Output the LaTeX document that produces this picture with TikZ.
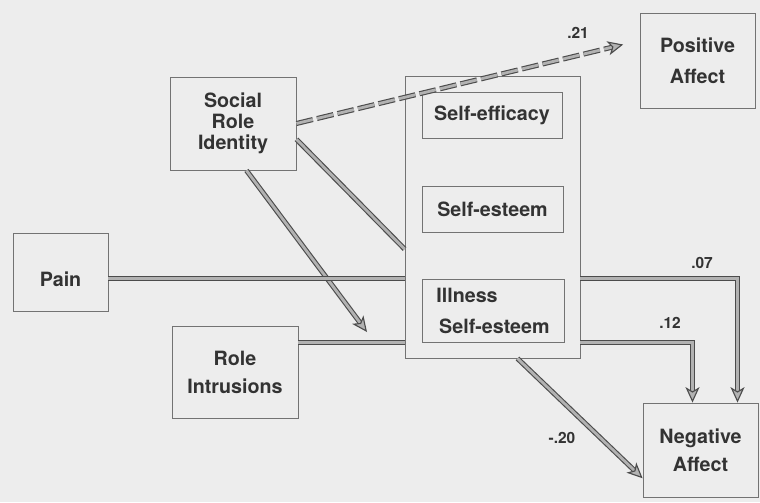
\documentclass[tikz,border=0pt]{standalone}
\usepackage{fontspec}
\setmainfont{TeX Gyre Heros}
\usepackage{tikz}
\usetikzlibrary{arrows.meta, positioning, calc}

\begin{document}
\begin{tikzpicture}[
    x=0.025cm, y=-0.025cm,
    box/.style={rectangle, draw=black!55, line width=0.6pt, align=center, inner sep=0pt, text=black!80, font=\fontsize{14}{20}\selectfont\bfseries},
    link/.style={draw=black!70, line width=0.8pt, double=black!30, double distance=2pt},
    arrow/.style={link, -{Stealth[length=11pt, width=10pt, inset=3pt, fill=black!30, line width=0.8pt]}},
    coef/.style={font=\fontsize{11}{13}\selectfont\bfseries, text=black!80},
    >=stealth
]
    \fill[black!7] (0,0) rectangle (760,502);
    % outer boxes
    \node[box, minimum width=3.15cm, minimum height=2.325cm, font=\fontsize{14}{15}\selectfont\bfseries] (sri) at (233,123.5) {Social\\Role\\Identity};
    \node[box, minimum width=2.375cm, minimum height=1.95cm, text height=20pt, text depth=0pt] (pain) at (60.5,272) {Pain};
    \node[box, minimum width=3.15cm, minimum height=2.3cm] (ri) at (235,372) {Role\\Intrusions};
    \node[box, minimum width=2.875cm, minimum height=2.375cm, font=\fontsize{14}{22}\selectfont\bfseries] (pa) at (697.5,60.5) {Positive\\Affect};
    \node[box, minimum width=2.875cm, minimum height=2.35cm] (na) at (700.5,450) {Negative\\Affect};
    % mediators
    \node[box, minimum width=4.375cm, minimum height=7.05cm] (med) at (492.5,217) {};
    \node[box, minimum width=3.5cm, minimum height=1.15cm] (se) at (492,115) {Self-efficacy};
    \node[box, minimum width=3.525cm, minimum height=1.15cm] (ses) at (492.5,209) {Self-esteem};
    \node[box, minimum width=3.55cm, minimum height=1.575cm, align=left, font=\fontsize{14}{22}\selectfont\bfseries] (ise) at (493,310.5) {Illness\\\hspace*{2pt}Self-esteem};
    % paths
    \coordinate (ritip) at (367,332);
    \draw[arrow, dash pattern=on 12pt off 3pt, shorten >=12pt] (sri.east) -- (pa.161);
    \draw[link] (sri.-14) -- (med.200);
    \draw[arrow] (sri.-74) -- (ritip);
    \draw[link] (pain.east |- ise.north) -- (med.west |- ise.north);
    \draw[arrow] (med.east |- ise.north) -| ($(na.north)+(37,0)$);
    \draw[link] (ri.east |- ise.south) -- (med.west |- ise.south);
    \draw[arrow] (med.east |- ise.south) -| ($(na.north)+(-8,0)$);
    \draw[arrow] (med.-80) -- (na.206);
    % coefficients
    \node[coef] (c21) at (578,33) {.21};
    \node[coef] (c07) at (702,263) {.07};
    \node[coef] (c12) at (670,323) {.12};
    \node[coef] (c20) at (562,438) {-.20};
\end{tikzpicture}
\end{document}
